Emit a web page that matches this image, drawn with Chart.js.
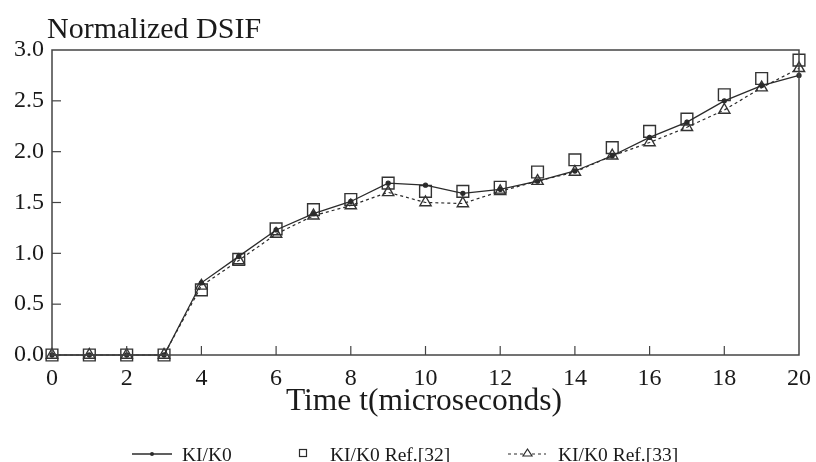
<!DOCTYPE html>
<html>
<head>
<meta charset="utf-8">
<script src="https://cdn.jsdelivr.net/npm/chart.js@4/dist/chart.umd.min.js"></script>
<style>
  html, body { margin: 0; padding: 0; background: #fff; }
  #wrap { width: 816px; height: 462px; }
</style>
</head>
<body>
<div id="wrap"><canvas id="c" width="816" height="462"></canvas></div>
<script>
var times = [0, 1, 2, 3, 4, 5, 6, 7, 8, 9, 10, 11, 12, 13, 14, 15, 16, 17, 18, 19, 20];
var kiK0 = [0, 0, 0, 0, 0.71, 0.97, 1.23, 1.39, 1.51, 1.69, 1.67, 1.59, 1.63, 1.71, 1.81, 1.96, 2.14, 2.29, 2.50, 2.65, 2.75];
var kiRef32 = [0, 0, 0, 0, 0.64, 0.94, 1.24, 1.43, 1.53, 1.69, 1.61, 1.61, 1.65, 1.80, 1.92, 2.04, 2.20, 2.32, 2.56, 2.72, 2.90];
var kiRef33 = [0, 0, 0, 0, 0.68, 0.93, 1.19, 1.37, 1.47, 1.60, 1.50, 1.49, 1.61, 1.71, 1.80, 1.96, 2.09, 2.24, 2.41, 2.63, 2.82];
var xTicks = [0, 2, 4, 6, 8, 10, 12, 14, 16, 18, 20];
var yTicks = [0, 0.5, 1.0, 1.5, 2.0, 2.5, 3.0];

var seriesLabels = ["KI/K0", "KI/K0 Ref.[32]", "KI/K0 Ref.[33]"];
var ink = "#2b2b2b";
var serif = "'Liberation Serif', 'DejaVu Serif', serif";

function pairs(values) {
  return values.map(function (v, i) {
    return { x: times[i], y: v };
  });
}

// box, inward ticks, title and legend drawn on the canvas
var framePlugin = {
  id: "frame",
  afterDraw: function (chart) {
    var ctx = chart.ctx;
    var area = chart.chartArea;
    var xs = chart.scales.x;
    var ys = chart.scales.y;
    ctx.save();
    ctx.strokeStyle = "#444";
    ctx.lineWidth = 1.5;
    ctx.setLineDash([]);
    ctx.strokeRect(area.left, area.top, area.right - area.left, area.bottom - area.top);

    ctx.lineWidth = 1.2;
    xTicks.forEach(function (t) {
      var px = xs.getPixelForValue(t);
      if (t === 0 || t === 20) return;
      ctx.beginPath();
      ctx.moveTo(px, area.bottom);
      ctx.lineTo(px, area.bottom - 9);
      ctx.stroke();
    });
    yTicks.forEach(function (t) {
      var py = ys.getPixelForValue(t);
      if (t === 0 || t === 3) return;
      ctx.beginPath();
      ctx.moveTo(area.left, py);
      ctx.lineTo(area.left + 9, py);
      ctx.stroke();
    });

    ctx.fillStyle = "#1a1a1a";
    ctx.font = "30px " + serif;
    ctx.textAlign = "left";
    ctx.textBaseline = "alphabetic";
    ctx.fillText("Normalized DSIF", 47, 38);

    ctx.font = "31.5px " + serif;
    ctx.textAlign = "center";
    ctx.fillText("Time t(microseconds)", 424, 410);

    // legend
    var ly = 454;
    ctx.font = "19.5px " + serif;
    ctx.textAlign = "left";
    ctx.textBaseline = "alphabetic";
    ctx.strokeStyle = ink;

    ctx.lineWidth = 1.3;
    ctx.beginPath();
    ctx.moveTo(132, ly);
    ctx.lineTo(172, ly);
    ctx.stroke();
    ctx.beginPath();
    ctx.arc(152, ly, 2, 0, Math.PI * 2);
    ctx.fillStyle = ink;
    ctx.fill();
    ctx.fillStyle = "#1a1a1a";
    ctx.fillText(seriesLabels[0], 182, 461);

    ctx.lineWidth = 1.2;
    ctx.strokeRect(299.5, ly - 4.5, 7, 7);
    ctx.fillText(seriesLabels[1], 330, 461);

    ctx.setLineDash([3, 3]);
    ctx.beginPath();
    ctx.moveTo(508, ly);
    ctx.lineTo(523, ly);
    ctx.moveTo(532, ly);
    ctx.lineTo(546, ly);
    ctx.stroke();
    ctx.setLineDash([]);
    ctx.beginPath();
    ctx.moveTo(527.5, ly - 5);
    ctx.lineTo(532, ly + 2);
    ctx.lineTo(523, ly + 2);
    ctx.closePath();
    ctx.stroke();
    ctx.fillText(seriesLabels[2], 558, 461);
    ctx.restore();
  }
};

new Chart(document.getElementById("c"), {
  type: "line",
  data: {
    datasets: [
      {
        label: seriesLabels[0],
        data: pairs(kiK0),
        borderColor: ink,
        borderWidth: 1.3,
        pointStyle: "circle",
        pointRadius: 2,
        pointBackgroundColor: ink,
        pointBorderColor: ink,
        tension: 0,
        clip: false,
        order: 1
      },
      {
        label: seriesLabels[1],
        data: pairs(kiRef32),
        showLine: false,
        pointStyle: "rect",
        pointRadius: 8.3,
        pointBorderWidth: 1.4,
        pointBorderColor: "#333",
        pointBackgroundColor: "rgba(255,255,255,0)",
        clip: false,
        order: 3
      },
      {
        label: seriesLabels[2],
        data: pairs(kiRef33),
        borderColor: ink,
        borderWidth: 1.2,
        borderDash: [3, 3],
        pointStyle: "triangle",
        pointRadius: 6.5,
        pointBorderWidth: 1.4,
        pointBorderColor: "#333",
        pointBackgroundColor: "rgba(255,255,255,0)",
        tension: 0,
        clip: false,
        order: 2
      }
    ]
  },
  options: {
    responsive: false,
    animation: false,
    layout: { padding: { top: 50, right: 17, left: 0, bottom: 0 } },
    plugins: {
      legend: { display: false },
      tooltip: { enabled: false },
      title: { display: false }
    },
    scales: {
      x: {
        type: "linear",
        min: 0,
        max: 20,
        afterBuildTicks: function (scale) {
          scale.ticks = xTicks.map(function (v) { return { value: v }; });
        },
        afterFit: function (scale) {
          scale.height = 107;
          scale.paddingLeft = 0;
          scale.paddingRight = 0;
        },
        grid: { display: false, drawTicks: false },
        border: { display: false },
        ticks: {
          padding: 9,
          maxRotation: 0,
          color: "#1a1a1a",
          font: { family: serif, size: 24 }
        }
      },
      y: {
        min: 0,
        max: 3,
        afterBuildTicks: function (scale) {
          scale.ticks = yTicks.map(function (v) { return { value: v }; });
        },
        afterFit: function (scale) {
          scale.width = 52;
          scale.paddingTop = 0;
          scale.paddingBottom = 0;
        },
        grid: { display: false, drawTicks: false },
        border: { display: false },
        ticks: {
          padding: 8,
          color: "#1a1a1a",
          font: { family: serif, size: 24 },
          callback: function (v) { return Number(v).toFixed(1); }
        }
      }
    }
  },
  plugins: [framePlugin]
});
</script>
</body>
</html>
